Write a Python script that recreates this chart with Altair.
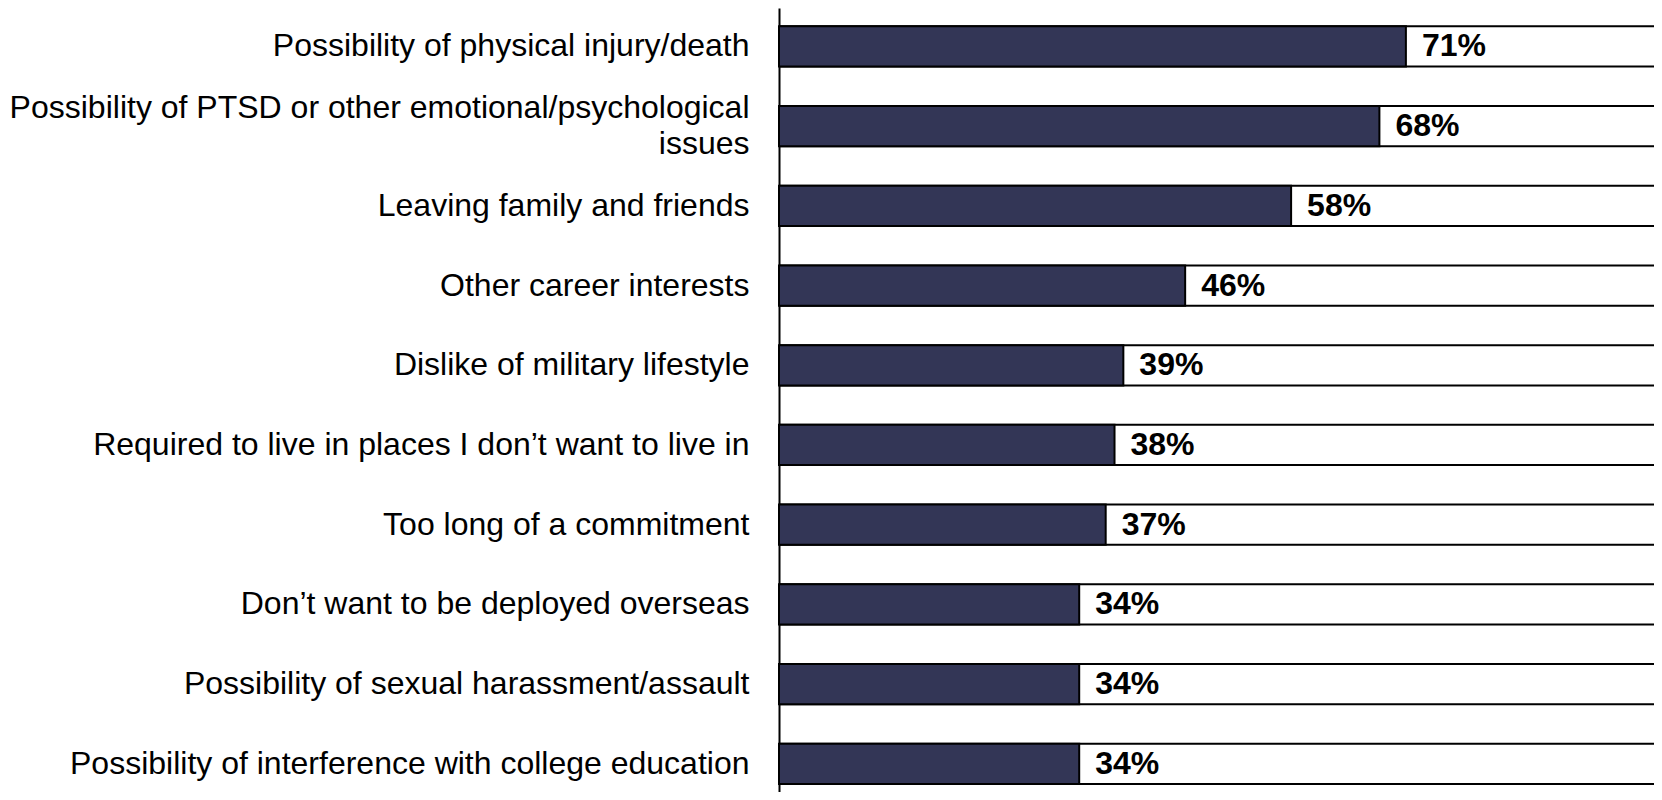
import altair as alt
import pandas as pd

NBSP = "\u00a0"
categories = [
    "Possibility of physical injury/death" + NBSP,
    "Possibility of PTSD or other emotional/psychological\nissues",
    "Leaving family and friends" + NBSP,
    "Other career interests" + NBSP,
    "Dislike of military lifestyle" + NBSP,
    "Required to live in places I don\u2019t want to live in",
    "Too long of a commitment",
    "Don\u2019t want to be deployed overseas",
    "Possibility of sexual harassment/assault",
    "Possibility of interference with college education",
]
values = [71, 68, 58, 46, 39, 38, 37, 34, 34, 34]
totals = [100] * len(values)

df = pd.DataFrame({
    "category": categories,
    "value": values,
    "total": totals,
    "label": [f"{v}%" for v in values],
})

FONT = "Liberation Sans"

y_enc = alt.Y(
    "category:N",
    sort=categories,
    scale=alt.Scale(paddingInner=0.495, paddingOuter=0.166, align=0.694),
    axis=alt.Axis(
        title=None,
        ticks=False,
        domainColor="black",
        domainWidth=2,
        labelFont=FONT,
        labelFontSize=32,
        labelColor="black",
        labelPadding=30,
        labelLimit=0,
        labelLineHeight=36,
        labelExpr="split(datum.label, '\\n')",
        labelOffset=alt.condition(
            "indexof(datum.value, '\\n') >= 0", alt.value(-18), alt.value(0)
        ),
    ),
)
x_scale = alt.Scale(domain=[0, 99.1], nice=False, zero=True)

base = alt.Chart(df)

bg = base.mark_bar(fill="white", stroke="black", strokeWidth=2, clip=True).encode(
    y=y_enc,
    x=alt.X("total:Q", scale=x_scale, axis=None),
)
bars = base.mark_bar(fill="#333656", stroke="black", strokeWidth=2).encode(
    y=y_enc,
    x=alt.X("value:Q", scale=x_scale, axis=None),
)
text = base.mark_text(
    align="left", baseline="middle", dx=16, font=FONT, fontSize=32,
    fontWeight="bold", color="black",
).encode(
    y=y_enc,
    x=alt.X("value:Q", scale=x_scale, axis=None),
    text="label:N",
)

chart = (
    alt.layer(bg, bars, text)
    .properties(
        width=875,
        height=784,
        autosize=alt.AutoSizeParams(type="none"),
        padding={"left": 771, "top": 0, "right": 0, "bottom": 0},
    )
    .configure_view(stroke=None)
    .configure_axis(grid=False)
)

chart.save("out.html", embed_options={"renderer": "svg", "actions": False})
